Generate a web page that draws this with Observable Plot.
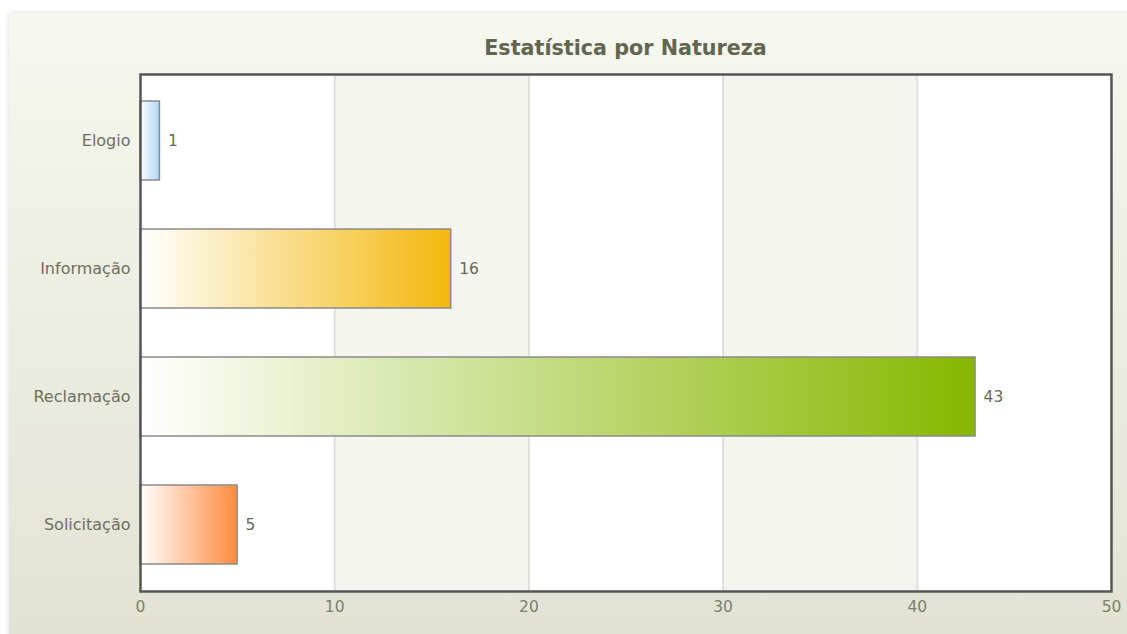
<!DOCTYPE html>
<html><head><meta charset="utf-8">
<script src="https://cdn.jsdelivr.net/npm/d3@7"></script>
<script src="https://cdn.jsdelivr.net/npm/@observablehq/plot@0.6"></script>
<style>
html,body{margin:0;padding:0;background:#fff;width:1127px;height:634px;overflow:hidden;}
#panel{position:absolute;left:9px;top:13px;width:1130px;height:630px;background:linear-gradient(#f6f7ee,#e2e2d4);box-shadow:0 0 6px rgba(0,0,0,0.15);}
#title{position:absolute;left:140px;width:971px;top:36px;text-align:center;font:bold 20.7px "DejaVu Sans";color:#62654f;}
#chart{position:absolute;left:0;top:0;}
</style></head><body>
<div id="panel"></div>
<div id="title">Estatística por Natureza</div>
<div id="chart"></div>
<script>
const categories = ["Elogio", "Informação", "Reclamação", "Solicitação"];
const values = [1, 16, 43, 5];
const barColors = ["#acd5f7", "#f3b80c", "#86b700", "#fe8a3f"];
const xTicks = [0, 10, 20, 30, 40, 50];
const shadedBands = [[10, 20], [30, 40]];
const gridLines = [10, 20, 30, 40];

const rows = categories.map((c, i) => ({category: c, value: values[i]}));
const bands = shadedBands.map(([a, b]) => ({x1: a, x2: b}));

const svg = Plot.plot({
  width: 1127,
  height: 634,
  marginLeft: 140,
  marginRight: 16,
  marginTop: 74,
  marginBottom: 43,
  style: {background: "transparent", fontFamily: "DejaVu Sans"},
  x: {domain: [0, 50], ticks: xTicks, tickSize: 0, tickPadding: 9, label: null},
  y: {domain: categories, paddingInner: 0.38, paddingOuter: 0.2, tickSize: 0, tickPadding: 10, label: null},
  marks: [
    Plot.frame({fill: "white", stroke: null}),
    Plot.rectX(bands, {x1: "x1", x2: "x2", fill: "#f5f5f0"}),
    Plot.ruleX(gridLines, {stroke: "#e0e0da", strokeWidth: 2}),
    ...rows.map((r, i) => Plot.barX([r], {
      x: "value", y: "category",
      fill: `url(#grad${i})`, stroke: "#8a8a8a", strokeWidth: 1.5,
      style: "filter:url(#barShadow)"
    })),
    Plot.text(rows, {x: "value", y: "category", text: d => String(d.value), dx: 8, textAnchor: "start", fontSize: 15.5, fill: "#666a5a"}),
    Plot.frame({stroke: "#555", strokeWidth: 2.5}),
    Plot.axisY({tickSize: 0, tickPadding: 10, fontSize: 16, color: "#6d705e", label: null}),
    Plot.axisX({ticks: xTicks, tickSize: 0, tickPadding: 9, fontSize: 15.5, color: "#7d806c", label: null})
  ]
});

const defs = d3.select(svg).insert("defs", ":first-child");
barColors.forEach((c, i) => {
  const g = defs.append("linearGradient").attr("id", `grad${i}`).attr("x1", "0").attr("x2", "1").attr("y1", "0").attr("y2", "0");
  g.append("stop").attr("offset", "0").attr("stop-color", "#ffffff");
  g.append("stop").attr("offset", "1").attr("stop-color", c);
});
const f = defs.append("filter").attr("id", "barShadow").attr("x", "-10%").attr("y", "-10%").attr("width", "130%").attr("height", "130%");
f.append("feDropShadow").attr("dx", 2.5).attr("dy", 2.5).attr("stdDeviation", 1.8).attr("flood-color", "#000").attr("flood-opacity", 0.3);

document.getElementById("chart").appendChild(svg);
</script>
</body></html>
